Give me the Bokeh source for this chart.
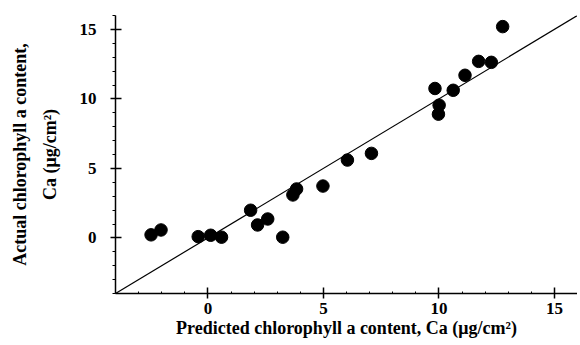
from bokeh.plotting import figure
from bokeh.models import FixedTicker, Title, ColumnDataSource
from bokeh.embed import file_html
from bokeh.resources import INLINE

predicted = [-2.46, -2.03, -0.42, 0.12, 0.59, 1.85, 2.15, 2.59, 3.24, 3.68, 3.84, 4.98,
             6.04, 7.08, 9.83, 10.01, 9.98, 10.62, 11.13, 11.72, 12.27, 12.76]
actual = [0.22, 0.57, 0.09, 0.19, 0.05, 1.99, 0.93, 1.36, 0.05, 3.09, 3.52, 3.73,
          5.6, 6.08, 10.75, 9.55, 8.9, 10.62, 11.7, 12.7, 12.63, 15.2]
line_x = [-4, 16]
line_y = [-4, 16]
major_ticks = [0, 5, 10, 15]
minor_ticks = list(range(-4, 17))

FONT = "Liberation Serif"

p = figure(width=577, height=343, x_range=(-4, 16), y_range=(-4, 16),
           output_backend="svg", toolbar_location=None,
           min_border_left=115, min_border_right=0, min_border_top=15, min_border_bottom=50)
p.outline_line_color = None
p.grid.visible = False
p.background_fill_color = "white"

p.line(line_x, line_y, line_color="black", line_width=1.2)
src = ColumnDataSource(dict(x=predicted, y=actual))
p.scatter("x", "y", source=src, size=12.5, fill_color="black", line_color="black")

for ax in (p.xaxis[0], p.yaxis[0]):
    ax.ticker = FixedTicker(ticks=major_ticks, minor_ticks=minor_ticks)
    ax.axis_line_color = "black"
    ax.axis_line_width = 1.5
    ax.major_tick_line_width = 1.5
    ax.major_tick_in = 6
    ax.major_tick_out = 5
    ax.minor_tick_in = 0
    ax.minor_tick_out = 3
    ax.major_label_text_font = FONT
    ax.major_label_text_font_style = "bold"
    ax.major_label_text_font_size = "17px"
    ax.major_label_text_color = "black"
    ax.axis_label_text_font = FONT
    ax.axis_label_text_font_style = "bold"
    ax.axis_label_text_font_size = "18px"
    ax.axis_label_text_color = "black"

p.xaxis.major_label_standoff = 4
p.xaxis.axis_label = "Predicted chlorophyll a content, Ca (μg/cm²)"
p.xaxis.axis_label_standoff = 1
p.xaxis.minor_tick_in = 2
p.xaxis.minor_tick_out = 0

p.yaxis.major_label_standoff = 14
p.yaxis.axis_label = "Ca (μg/cm²)"
p.yaxis.axis_label_standoff = 17

t = Title(text="Actual chlorophyll a content,", align="center",
          text_font=FONT, text_font_style="bold", text_font_size="18px",
          text_color="black", standoff=13)
p.add_layout(t, "left")

open("out.html", "w").write(file_html(p, INLINE))
